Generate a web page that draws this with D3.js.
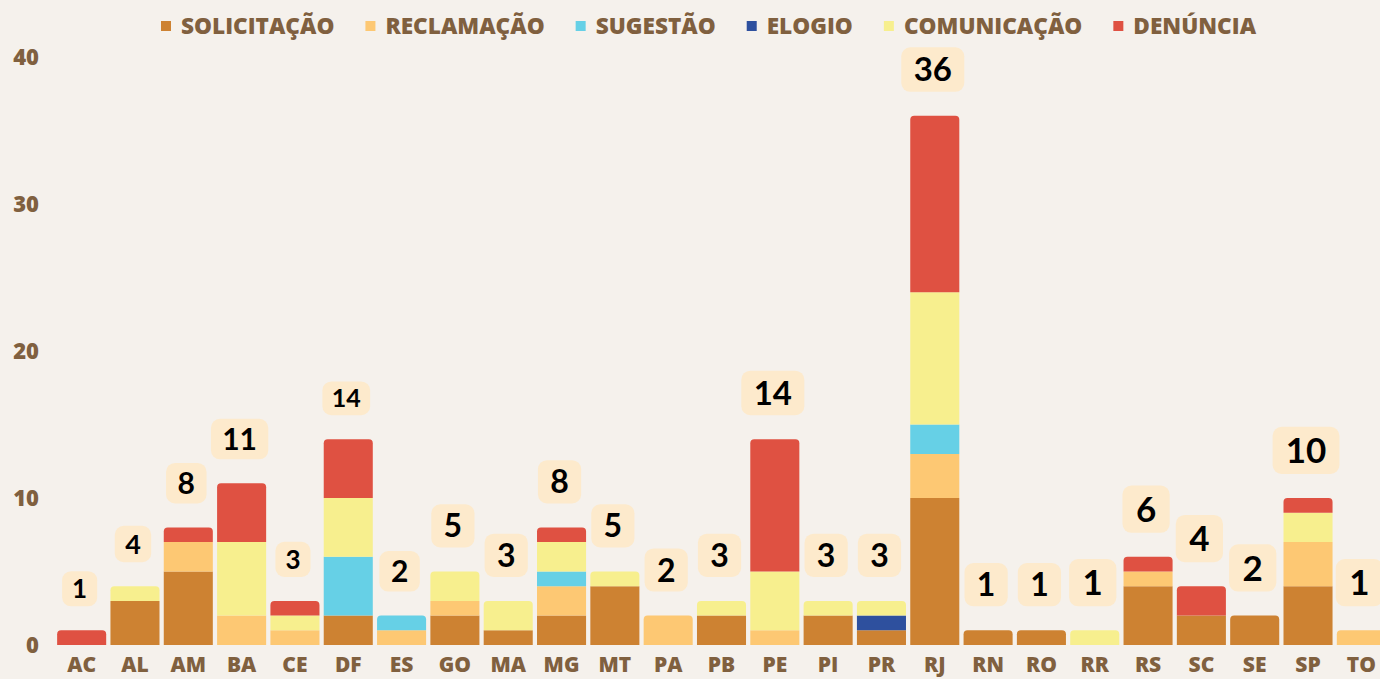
<!DOCTYPE html>
<html>
<head>
<meta charset="utf-8">
<script src="https://cdn.jsdelivr.net/npm/d3@7"></script>
<style>
  html, body { margin: 0; padding: 0; background: #f5f1ec; }
  svg { display: block; }
  .axis text { font-family: "Open Sans", sans-serif; font-weight: 800; fill: #80603f; }
</style>
</head>
<body>
<script>
// Data.
const states = ['AC','AL','AM','BA','CE','DF','ES','GO','MA','MG','MT','PA','PB','PE','PI','PR','RJ','RN','RO','RR','RS','SC','SE','SP','TO']
const series = ['SOLICITAÇÃO','RECLAMAÇÃO','SUGESTÃO','ELOGIO','COMUNICAÇÃO','DENÚNCIA']
const solicitacao = [0,3,5,0,0,2,0,2,1,2,4,0,2,0,2,1,10,1,1,0,4,2,2,4,0]
const reclamacao  = [0,0,2,2,1,0,1,1,0,2,0,2,0,1,0,0,3,0,0,0,1,0,0,3,1]
const sugestao    = [0,0,0,0,0,4,1,0,0,1,0,0,0,0,0,0,2,0,0,0,0,0,0,0,0]
const elogio      = [0,0,0,0,0,0,0,0,0,0,0,0,0,0,0,1,0,0,0,0,0,0,0,0,0]
const comunicacao = [0,1,0,5,1,4,0,2,2,2,1,0,1,4,1,1,9,0,0,1,0,0,0,2,0]
const denuncia    = [1,0,1,4,1,4,0,0,0,1,0,0,0,9,0,0,12,0,0,0,1,2,0,1,0]
const yTicks = [0, 10, 20, 30, 40]

// Styling.
const colors = ['#cd8232','#fdc873','#66d0e6','#2e509e','#f7ef8e','#df5142']
const labelFont = [26,27,30,30,26,25,30,32,32,32,32,32,32,33,32,32,33,32,32,35,35,35,35,35,35]

const W = 1380, H = 679
const svg = d3.select('body').append('svg').attr('width', W).attr('height', H)

const rows = states.map((s, i) => ({
  state: s,
  'SOLICITAÇÃO': solicitacao[i], 'RECLAMAÇÃO': reclamacao[i], 'SUGESTÃO': sugestao[i],
  'ELOGIO': elogio[i], 'COMUNICAÇÃO': comunicacao[i], 'DENÚNCIA': denuncia[i]
}))
const stacked = d3.stack().keys(series)(rows)

// Scales.
const x = d3.scaleBand().domain(states).range([55, 1388]).paddingInner(0.08).paddingOuter(0.04)
const y = d3.scaleLinear().domain([0, 40]).range([645, 57])
const color = d3.scaleOrdinal().domain(series).range(colors)

// Axes.
svg.append('g').attr('class', 'axis')
  .attr('transform', 'translate(40,0)')
  .call(d3.axisLeft(y).tickValues(yTicks).tickSize(0).tickPadding(1))
  .call(g => g.select('.domain').remove())
  .selectAll('text').style('font-size', '22px')

svg.append('g').attr('class', 'axis')
  .attr('transform', `translate(0,${y(0)})`)
  .call(d3.axisBottom(x).tickSize(0).tickPadding(12))
  .call(g => g.select('.domain').remove())
  .selectAll('text').style('font-size', '21px')

// Top-rounded bar path.
const roundTop = (x0, y0, w, h, r) => {
  r = Math.min(r, h / 2, w / 2)
  return `M${x0},${y0 + h}V${y0 + r}Q${x0},${y0} ${x0 + r},${y0}H${x0 + w - r}Q${x0 + w},${y0} ${x0 + w},${y0 + r}V${y0 + h}Z`
}

// Index of top non-empty segment per state.
const topIdx = rows.map(r => {
  let t = -1
  series.forEach((k, j) => { if (r[k] > 0) t = j })
  return t
})

// Bars.
stacked.forEach((layer, j) => {
  svg.append('g').selectAll('path')
    .data(layer.filter(d => d[1] > d[0]))
    .enter().append('path')
      .attr('fill', color(layer.key))
      .attr('d', d => {
        const i = states.indexOf(d.data.state)
        const x0 = x(d.data.state), w = x.bandwidth()
        const y0 = y(d[1]), h = y(d[0]) - y(d[1])
        return topIdx[i] === j ? roundTop(x0, y0, w, h, 4) : `M${x0},${y0}h${w}v${h}h${-w}Z`
      })
})

// Total labels.
const totals = rows.map(r => d3.sum(series, k => r[k]))
const lab = svg.append('g').selectAll('g')
  .data(states).enter().append('g')

lab.each(function (s, i) {
  const g = d3.select(this)
  const fs = labelFont[i]
  const h = fs * 1.35
  const cx = x(s) + x.bandwidth() / 2 - 2
  const bottom = y(totals[i]) - 24
  const rect = g.append('rect')
  const t = g.append('text')
    .attr('x', cx).attr('y', bottom - h / 2)
    .attr('text-anchor', 'middle').attr('dy', '0.36em')
    .style('font-family', 'Lato, sans-serif').style('font-weight', 700)
    .style('font-size', fs + 'px').style('fill', '#000')
    .text(totals[i])
  const tw = t.node().getComputedTextLength()
  const w = Math.max(tw + fs * 0.75, h)
  rect.attr('x', cx - w / 2).attr('y', bottom - h)
    .attr('width', w).attr('height', h)
    .attr('rx', 9).attr('fill', '#fdeacc')
})

// Legend.
const legend = svg.append('g')
let lx = 161
series.forEach((k, j) => {
  legend.append('rect').attr('x', lx).attr('y', 21).attr('width', 10).attr('height', 10).attr('fill', colors[j])
  const t = legend.append('text')
    .attr('x', lx + 20).attr('y', 26).attr('dy', '0.36em')
    .style('font-family', '"Open Sans", sans-serif').style('font-weight', 800)
    .style('font-size', '22.6px').style('fill', '#80603f')
    .text(k)
  lx += 20 + t.node().getComputedTextLength() + 31
})
</script>
</body>
</html>
